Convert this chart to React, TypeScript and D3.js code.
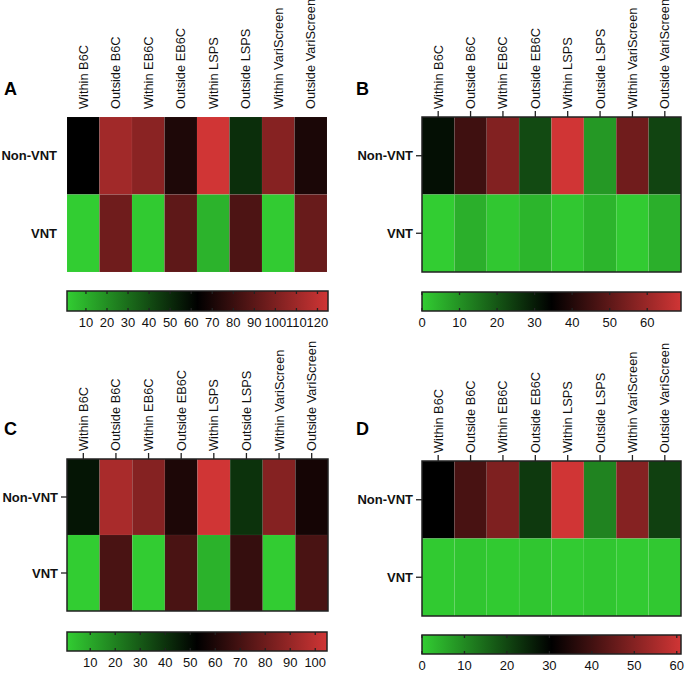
import React from "react";
import * as d3 from "d3";

const columns = [
  "Within B6C",
  "Outside B6C",
  "Within EB6C",
  "Outside EB6C",
  "Within LSPS",
  "Outside LSPS",
  "Within VariScreen",
  "Outside VariScreen",
];
const rows = ["Non-VNT", "VNT"];

// Panel A
const aNonVNT = [63, 111, 104, 72, 125, 49, 103, 71];
const aVNT = [1, 96, 2, 91, 9, 86, 1.5, 94];
const aDomain = [1, 125];
const aTicks = [10, 20, 30, 40, 50, 60, 70, 80, 90, 100, 110, 120];

// Panel B
const bNonVNT = [32, 45, 56, 22, 69, 9, 53, 23];
const bVNT = [0, 5, 1, 4, 1, 4, 0.3, 5];
const bDomain = [0, 69];
const bTicks = [0, 10, 20, 30, 40, 50, 60];

// Panel C
const cNonVNT = [47.5, 95, 86, 60, 104.7, 40, 86, 58];
const cVNT = [0.7, 71, 1, 71, 7.5, 66, 1, 71];
const cDomain = [0.7, 104.7];
const cTicks = [10, 20, 30, 40, 50, 60, 70, 80, 90, 100];

// Panel D
const dNonVNT = [30.5, 41, 49, 22, 61, 11, 50, 21];
const dVNT = [0.5, 1, 0.5, 1, 0.3, 1, 0.3, 0.8];
const dDomain = [0, 61];
const dTicks = [0, 10, 20, 30, 40, 50, 60];

const GREEN = "#32CD32";
const RED = "#D03535";
const FONT = "Liberation Sans, Arial, Helvetica, sans-serif";

type PanelProps = {
  id: string;
  letter: string;
  values: number[][];
  domain: number[];
  ticks: number[];
  hx: [number, number];
  hy: [number, number];
  cbx: [number, number];
  cby: [number, number];
  letterPos: [number, number];
  framed: boolean;
  tickLabelDy: number;
};

function Panel(p: PanelProps) {
  const x = d3.scaleBand<string>().domain(columns).range(p.hx);
  const y = d3.scaleBand<string>().domain(rows).range(p.hy);
  const mid = (p.domain[0] + p.domain[1]) / 2;
  const color = d3
    .scaleLinear<string>()
    .domain([p.domain[0], mid, p.domain[1]])
    .range([GREEN, "#000000", RED])
    .interpolate(d3.interpolateRgb);
  const cb = d3.scaleLinear().domain(p.domain).range(p.cbx);
  const gid = "grad" + p.id;
  const tickLen = p.framed ? 6 : 0;
  return (
    <g>
      <defs>
        <linearGradient id={gid} x1="0" x2="1" y1="0" y2="0">
          <stop offset="0%" stopColor={GREEN} />
          <stop offset="50%" stopColor="#000" />
          <stop offset="100%" stopColor={RED} />
        </linearGradient>
      </defs>
      <text
        x={p.letterPos[0]}
        y={p.letterPos[1]}
        fontFamily={FONT}
        fontWeight="bold"
        fontSize={18}
        fill="#000"
      >
        {p.letter}
      </text>
      {rows.map((r, ri) =>
        columns.map((c, ci) => (
          <rect
            key={r + c}
            x={x(c)}
            y={y(r)}
            width={x.bandwidth()}
            height={y.bandwidth()}
            fill={color(p.values[ri][ci])}
            stroke="rgba(255,255,255,0.07)"
            strokeWidth={0.6}
          />
        ))
      )}
      {p.framed && (
        <rect
          x={p.hx[0]}
          y={p.hy[0]}
          width={p.hx[1] - p.hx[0]}
          height={p.hy[1] - p.hy[0]}
          fill="none"
          stroke="#222"
          strokeWidth={1.5}
        />
      )}
      {columns.map((c) => {
        const cx = (x(c) as number) + x.bandwidth() / 2;
        return (
          <g key={c}>
            {p.framed && (
              <line x1={cx} x2={cx} y1={p.hy[0]} y2={p.hy[0] - tickLen} stroke="#222" strokeWidth={1.3} />
            )}
            <text
              transform={`translate(${cx},${p.hy[0] - 8}) rotate(-90)`}
              dy="0.35em"
              textAnchor="start"
              fontFamily={FONT}
              fontSize={12.8}
              fill="#111"
            >
              {c}
            </text>
          </g>
        );
      })}
      {rows.map((r) => {
        const cy = (y(r) as number) + y.bandwidth() / 2;
        return (
          <g key={r}>
            {p.framed && (
              <line x1={p.hx[0]} x2={p.hx[0] - 6} y1={cy} y2={cy} stroke="#222" strokeWidth={1.3} />
            )}
            <text
              x={p.hx[0] - (p.framed ? 9 : 10)}
              y={cy}
              dy="0.35em"
              textAnchor="end"
              fontFamily={FONT}
              fontWeight="bold"
              fontSize={13}
              fill="#111"
            >
              {r}
            </text>
          </g>
        );
      })}
      <rect
        x={p.cbx[0]}
        y={p.cby[0]}
        width={p.cbx[1] - p.cbx[0]}
        height={p.cby[1] - p.cby[0]}
        fill={`url(#${gid})`}
        stroke="#222"
        strokeWidth={1.5}
      />
      {p.ticks.map((t) => (
        <g key={t}>
          <line x1={cb(t)} x2={cb(t)} y1={p.cby[0]} y2={p.cby[0] + 3} stroke="#222" strokeWidth={1.3} />
          <line x1={cb(t)} x2={cb(t)} y1={p.cby[1]} y2={p.cby[1] - 3} stroke="#222" strokeWidth={1.3} />
          <text
            x={cb(t)}
            y={p.cby[1] + p.tickLabelDy}
            textAnchor="middle"
            fontFamily={FONT}
            fontSize={13}
            fill="#111"
          >
            {t}
          </text>
        </g>
      ))}
    </g>
  );
}

export default function App() {
  return (
    <svg
      width={685}
      height={675}
      style={{ position: "absolute", left: 0, top: 0, background: "#fff" }}
    >
      <Panel
        id="A"
        letter="A"
        values={[aNonVNT, aVNT]}
        domain={aDomain}
        ticks={aTicks}
        hx={[67, 327]}
        hy={[117, 272]}
        cbx={[67, 328]}
        cby={[291, 311]}
        letterPos={[4, 95]}
        framed={false}
        tickLabelDy={16}
      />
      <Panel
        id="B"
        letter="B"
        values={[bNonVNT, bVNT]}
        domain={bDomain}
        ticks={bTicks}
        hx={[422, 681]}
        hy={[117, 272]}
        cbx={[422, 681]}
        cby={[292, 311]}
        letterPos={[356, 95]}
        framed={true}
        tickLabelDy={16}
      />
      <Panel
        id="C"
        letter="C"
        values={[cNonVNT, cVNT]}
        domain={cDomain}
        ticks={cTicks}
        hx={[67, 328]}
        hy={[459, 611]}
        cbx={[67, 327]}
        cby={[632, 651]}
        letterPos={[4, 435]}
        framed={true}
        tickLabelDy={16}
      />
      <Panel
        id="D"
        letter="D"
        values={[dNonVNT, dVNT]}
        domain={dDomain}
        ticks={dTicks}
        hx={[422, 681]}
        hy={[461, 616]}
        cbx={[422, 681]}
        cby={[635, 654]}
        letterPos={[356, 435]}
        framed={true}
        tickLabelDy={16}
      />
    </svg>
  );
}
